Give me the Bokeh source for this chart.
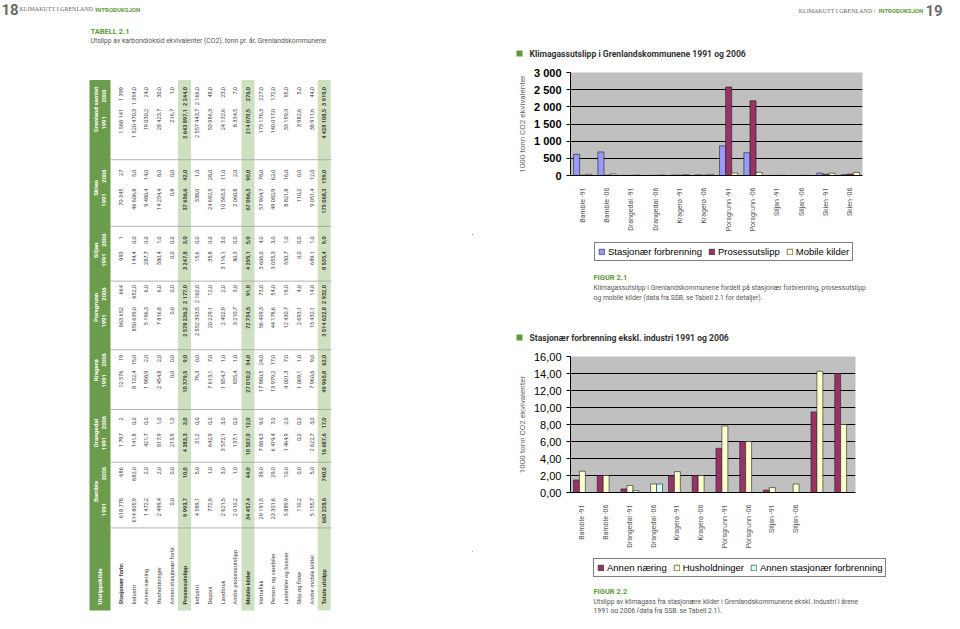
import math
from bokeh.plotting import figure
from bokeh.models import (Range1d, FactorRange, ColumnDataSource, Legend,
                          LegendItem, FixedTicker, CustomJSTickFormatter)
from bokeh.transform import dodge
from bokeh.layouts import row, column
from bokeh.embed import file_html
from bokeh.resources import INLINE
from bokeh.core.properties import value

SANS = "Roboto"
ARIAL = "Liberation Sans"
SERIF = "Liberation Serif"
GREEN = "#5e9a3c"
DARKGREEN = "#6b9c4b"
LIGHTGREEN = "#cfe0c0"
GRAY = "#555555"
TXT = "#3c3c3c"

# ---------------- data (Tabell 2.1) ----------------
row_labels = ["Stasjonær forbr.", "Industri", "Annen næring", "Husholdninger",
              "Annen stasjonær forbr.", "Prosessutslipp", "Industri", "Deponi",
              "Landbruk", "Andre prosessutslipp", "Mobile kilder", "Veitrafikk",
              "Person- og varebiler", "Lastebiler og busser", "Skip og fiske",
              "Andre mobile kilder", "Totale utslipp"]
sum_rows = [5, 10, 16]
bold_label_rows = [0, 5, 10, 16]
year_labels = ["1991", "2006"]

bamble_1991 = [618778, 614805.9, 1472.2, 2499.4, 0.0, 9993.7, 4589.1, 772.9, 2621.5, 2010.2, 34457.4, 29191.5, 23301.6, 5889.9, 110.2, 5155.7, 663228.6]
bamble_2006 = [686, 682.0, 2.0, 2.0, 0.0, 10.0, 5.0, 1.0, 3.0, 1.0, 44.0, 39.0, 29.0, 10.0, 0.0, 5.0, 740.0]
drangedal_1991 = [1797, 141.8, 421.7, 817.9, 215.9, 4383.3, 31.2, 642.9, 3572.1, 137.1, 10507.0, 7884.3, 6419.4, 1464.9, 0.0, 2622.7, 16687.6]
drangedal_2006 = [2, 0.0, 0.0, 1.0, 1.0, 3.0, 0.0, 0.0, 3.0, 0.0, 12.0, 9.0, 7.0, 2.0, 0.0, 3.0, 17.0]
kragero_1991 = [12576, 8132.4, 1988.9, 2454.8, 0.0, 10379.5, 76.3, 7613.1, 1854.7, 835.4, 27010.2, 17980.5, 13979.2, 4001.3, 1069.1, 7960.6, 49965.8]
kragero_2006 = [19, 15.0, 2.0, 2.0, 0.0, 9.0, 0.0, 7.0, 1.0, 1.0, 34.0, 24.0, 17.0, 7.0, 1.0, 9.0, 62.0]
porsgrunn_1991 = [863652, 850639.0, 5196.3, 7816.8, 0.0, 2578236.2, 2552393.5, 20229.1, 2402.9, 3210.7, 72734.5, 56409.3, 44178.6, 12430.7, 2693.1, 13432.1, 3514622.8]
porsgrunn_2006 = [664, 652.0, 6.0, 6.0, 0.0, 2177.0, 2160.0, 12.0, 2.0, 3.0, 91.0, 73.0, 54.0, 19.0, 4.0, 14.0, 2932.0]
siljan_1991 = [993, 144.4, 287.7, 580.4, 0.0, 3247.8, 15.6, 35.8, 3116.1, 80.3, 4295.1, 3606.0, 3055.3, 550.7, 0.0, 689.1, 8535.4]
siljan_2006 = [1, 0.0, 0.0, 1.0, 0.0, 3.0, 0.0, 0.0, 3.0, 0.0, 5.0, 4.0, 3.0, 1.0, 0.0, 1.0, 9.0]
skien_1991 = [70345, 46606.8, 9480.4, 14254.4, 0.8, 37656.6, 338.0, 24692.5, 10565.3, 2060.8, 67066.3, 57904.7, 49082.9, 8821.8, 110.2, 9051.4, 175068.3]
skien_2006 = [27, 5.0, 14.0, 8.0, 0.0, 42.0, 1.0, 28.0, 11.0, 2.0, 90.0, 78.0, 62.0, 16.0, 0.0, 12.0, 159.0]
grenland_1991 = [1568141, 1520470.3, 19030.2, 28423.7, 216.7, 2643897.1, 2557443.7, 53986.3, 24132.6, 8334.5, 214070.5, 173176.3, 140017.0, 33159.3, 3982.6, 38911.6, 4428108.5]
grenland_2006 = [1399, 1354.0, 24.0, 30.0, 1.0, 2244.0, 2166.0, 48.0, 23.0, 7.0, 276.0, 227.0, 172.0, 55.0, 5.0, 44.0, 3919.0]

# table groups, in the order they appear from top of page downwards
group_names = ["Grenland samlet", "Skien", "Siljan", "Porsgrunn", "Kragerø", "Drangedal", "Bamble"]
group_data = [(grenland_1991, grenland_2006), (skien_1991, skien_2006),
              (siljan_1991, siljan_2006), (porsgrunn_1991, porsgrunn_2006),
              (kragero_1991, kragero_2006), (drangedal_1991, drangedal_2006),
              (bamble_1991, bamble_2006)]

# chart data
chart_places = ["Bamble", "Drangedal", "Kragerø", "Porsgrunn", "Siljan", "Skien"]
chart_years = ["-91", "-06"]
chart_pairs = [(bamble_1991, bamble_2006), (drangedal_1991, drangedal_2006),
               (kragero_1991, kragero_2006), (porsgrunn_1991, porsgrunn_2006),
               (siljan_1991, siljan_2006), (skien_1991, skien_2006)]
cats = [f"{p} {y}" for p in chart_places for y in chart_years]


def series(r):
    out = []
    for a, b in chart_pairs:
        out += [a[r] / 1000.0, b[r]]
    return out


fig1_series = ["Stasjonær forbrenning", "Prosessutslipp", "Mobile kilder"]
fig1_rows = [0, 5, 10]
fig1_colors = ["#9999FF", "#993366", "#FFFFCC"]
fig1_ticks = [0, 500, 1000, 1500, 2000, 2500, 3000]

fig2_series = ["Annen næring", "Husholdninger", "Annen stasjonær forbrenning"]
fig2_rows = [2, 3, 4]
fig2_colors = ["#993366", "#FFFFCC", "#CCFFFF"]
fig2_ticks = [0, 2, 4, 6, 8, 10, 12, 14, 16]


def fmt(v, r):
    s = f"{v:,.0f}" if r == 0 else f"{v:,.1f}"
    return s.replace(",", " ").replace(".", ",")


def canvas(w, h, xr, yr):
    p = figure(width=w, height=h, x_range=xr, y_range=yr, output_backend="svg",
               toolbar_location=None, min_border=0, frame_align=False)
    p.axis.visible = False
    p.grid.visible = False
    p.outline_line_color = None
    return p


def txt(p, x, y, s, size, color=TXT, font=SANS, style="normal", align="left",
        baseline="middle", angle=0.0):
    p.text(x=x, y=y, text=s, text_font=value(font), text_font_size=size,
           text_color=color, text_font_style=style, text_align=align,
           text_baseline=baseline, angle=angle)


def legend_box(p, names, colors, loc):
    # legend swatches: proxy bars placed outside the visible range
    items = []
    for nm, col in zip(names, colors):
        r = p.vbar(x=[-100], top=[-100], bottom=[-120], width=1, fill_color=col,
                   line_color="#202020", line_width=0.6)
        items.append(LegendItem(label=nm, renderers=[r]))
    leg = Legend(items=items, orientation="horizontal", location=loc,
                 border_line_color="black", border_line_width=1,
                 background_fill_color="white", background_fill_alpha=1,
                 label_text_font=ARIAL, label_text_font_size="9.5px",
                 label_text_color="black",
                 glyph_width=7, glyph_height=7, label_standoff=3, spacing=6,
                 padding=3, margin=0, label_height=10)
    p.add_layout(leg, "center")

# ---------------- left page: table ----------------
L = canvas(472, 613, Range1d(6, 478), Range1d(626, 10))

TAB_TOP, TAB_BOT = 90, 623
HEAD_L, HEAD_R, TAB_R = 95, 116, 337
ROW0, ROW_STEP, ROW_W = 126.5, 12.7, 13
row_x = [ROW0 + ROW_STEP * i for i in range(len(row_labels))]
sep_y = [170, 237, 292, 361, 421, 474, 540]
end06 = [97, 180, 247, 296, 366, 429, 479]
end91 = [119, 199, 262, 318, 382, 445, 510]

txt(L, [7], [19], ["18"], "15px", color="#6a6a6a", style="bold")
txt(L, [25], [19], ["KLIMAKUTT I GRENLAND /"], "6px", color="#666666", font=SERIF)
txt(L, [101], [19], ["INTRODUKSJON"], "6px", color=GREEN, style="bold")
txt(L, [96], [41], ["TABELL 2.1"], "7.5px", color=GREEN, style="bold")
txt(L, [96], [51], ["Utslipp av karbondioksid ekvivalenter (CO2), tonn pr. år, Grenlandskommunene"],
    "6.8px", color=GRAY)

L.quad(left=[HEAD_L], right=[HEAD_R], top=[TAB_TOP], bottom=[TAB_BOT],
       fill_color=DARKGREEN, line_color=None)
L.quad(left=[row_x[i] - ROW_W / 2 for i in sum_rows],
       right=[row_x[i] + ROW_W / 2 for i in sum_rows],
       top=[TAB_TOP] * len(sum_rows), bottom=[TAB_BOT] * len(sum_rows),
       fill_color=LIGHTGREEN, line_color=None)
L.segment(x0=[HEAD_R] * len(sep_y), x1=[TAB_R] * len(sep_y), y0=sep_y, y1=sep_y,
          line_color="#a0a0a0", line_width=0.8)

UP = math.pi / 2
txt(L, [HEAD_L + 10.5], [617], ["Utslippskilde"], "6.2px", color="white",
    style="bold", angle=UP)
for g, name in enumerate(group_names):
    d91, d06 = group_data[g]
    w06 = max(len(fmt(v, r)) for r, v in enumerate(d06)) * 2.55
    w91 = max(len(fmt(v, r)) for r, v in enumerate(d91)) * 2.55
    c06 = end06[g] + w06 / 2
    c91 = end91[g] + w91 / 2
    txt(L, [HEAD_L + 6.5], [(c06 + c91) / 2], [name], "6.2px", color="white",
        style="bold", align="center", angle=UP)
    txt(L, [HEAD_L + 14.5, HEAD_L + 14.5], [c91, c06], year_labels, "5.8px",
        color="white", style="bold", align="center", angle=UP)
    for r in range(len(row_labels)):
        st = "bold" if r in sum_rows else "normal"
        txt(L, [row_x[r], row_x[r]], [end91[g], end06[g]],
            [fmt(d91[r], r), fmt(d06[r], r)], "5.6px", style=st, align="right",
            angle=UP)

for r, lab in enumerate(row_labels):
    st = "bold" if r in bold_label_rows else "normal"
    txt(L, [row_x[r]], [617], [lab], "5.8px", style=st, angle=UP)

# ---------------- right page ----------------
RW = 472
Rtop = canvas(RW, 66, Range1d(0, RW), Range1d(66, 0))
txt(Rtop, [403], [10], ["KLIMAKUTT I GRENLAND /"], "6px", color="#666666",
    font=SERIF, align="right")
txt(Rtop, [406], [10], ["INTRODUKSJON"], "6px", color=GREEN, style="bold")
txt(Rtop, [453], [10], ["19"], "15px", color="#6a6a6a", style="bold")
Rtop.rect(x=[47], y=[53], width=6, height=6, fill_color=GREEN, line_color=None)
txt(Rtop, [57], [53], ["Klimagassutslipp i Grenlandskommunene 1991 og 2006"], "8.6px",
    color="#333333", style="bold")


def bar_chart(colors, rows, ylim, ticks, labels, h, right, top, bottom,
              bold_ticks, hidden):
    src = ColumnDataSource(dict(cat=cats, **{f"s{i}": series(r) for i, r in enumerate(rows)}))
    p = figure(x_range=FactorRange(*cats), y_range=Range1d(0, ylim),
               width=RW, height=h, min_border_left=98,
               min_border_right=right, min_border_top=top, min_border_bottom=bottom,
               output_backend="svg", toolbar_location=None, frame_align=False)
    p.background_fill_color = "#C0C0C0"
    p.border_fill_color = "white"
    p.outline_line_color = None
    for i, col in enumerate(colors):
        p.vbar(x=dodge("cat", (i - 1) * 0.25, range=p.x_range), top=f"s{i}",
               width=0.25, source=src, fill_color=col, line_color="#202020",
               line_width=0.6)
    p.xgrid.visible = False
    p.ygrid.grid_line_color = "black"
    p.ygrid.grid_line_width = 1
    p.yaxis.ticker = FixedTicker(ticks=ticks)
    p.yaxis.major_label_overrides = labels
    p.yaxis.major_label_text_font = ARIAL
    p.yaxis.major_label_text_font_size = "11px"
    p.yaxis.major_label_text_font_style = "bold" if bold_ticks else "normal"
    p.yaxis.major_label_text_color = "black"
    p.yaxis.minor_tick_line_color = None
    p.yaxis.major_tick_in = 0
    p.yaxis.major_tick_out = 4
    p.yaxis.axis_line_color = "black"
    p.yaxis.axis_label = "1000 tonn CO2 ekvivalenter"
    p.yaxis.axis_label_text_font = SANS
    p.yaxis.axis_label_text_font_size = "8px"
    p.yaxis.axis_label_text_font_style = "normal"
    p.yaxis.axis_label_text_color = "#666666"
    p.yaxis.axis_label_standoff = 4
    p.xaxis.major_label_orientation = math.pi / 2
    p.xaxis.major_label_text_font = SANS
    p.xaxis.major_label_text_font_size = "7px"
    p.xaxis.major_label_text_color = GRAY
    p.xaxis.major_tick_line_color = None
    p.xaxis.axis_line_color = "black"
    p.xaxis.major_label_standoff = 6
    if hidden:
        p.xaxis.formatter = CustomJSTickFormatter(
            args=dict(hidden=hidden), code="return hidden.includes(tick) ? '' : tick")
    return p


lab1 = {t: f"{t:,}".replace(",", " ") for t in fig1_ticks}
lab2 = {t: f"{t:.2f}".replace(".", ",") for t in fig2_ticks}
p1 = bar_chart(fig1_colors, fig1_rows, 3000, fig1_ticks, lab1,
               168, 82, 6, 58, True, [])

RMH = 110
Rmid = canvas(RW, RMH, Range1d(0, RW), Range1d(RMH, 0))
legend_box(Rmid, fig1_series, fig1_colors, (122, RMH - 27))
txt(Rmid, [121], [43], ["FIGUR 2.1"], "7.5px", color=GREEN, style="bold")
txt(Rmid, [121, 121], [53, 63],
    ["Klimagassutslipp i Grenlandskommunene fordelt på stasjonær forbrenning, prosessutslipp",
     "og mobile kilder (data fra SSB, se Tabell 2.1 for detaljer)."], "6.8px", color=GRAY)
Rmid.rect(x=[47], y=[103], width=6, height=6, fill_color=GREEN, line_color=None)
txt(Rmid, [57], [103], ["Stasjonær forbrenning ekskl. industri 1991 og 2006"], "8.6px",
    color="#333333", style="bold")

p2 = bar_chart(fig2_colors, fig2_rows, 16, fig2_ticks, lab2,
               207, 89, 12, 58, False, cats[-2:])

RBH = 613 - 66 - 168 - RMH - 207
Rbot = canvas(RW, RBH, Range1d(0, RW), Range1d(RBH, 0))
legend_box(Rbot, fig2_series, fig2_colors, (121, RBH - 26))
txt(Rbot, [121], [40], ["FIGUR 2.2"], "7.5px", color=GREEN, style="bold")
txt(Rbot, [121, 121], [50, 59],
    ["Utslipp av klimagass fra stasjonære kilder i Grenlandskommunene ekskl. industri i årene",
     "1991 og 2006 (data fra SSB, se Tabell 2.1)."], "6.8px", color=GRAY)

page = row(L, column(Rtop, p1, Rmid, p2, Rbot))
open("out.html", "w").write(file_html(page, INLINE))
